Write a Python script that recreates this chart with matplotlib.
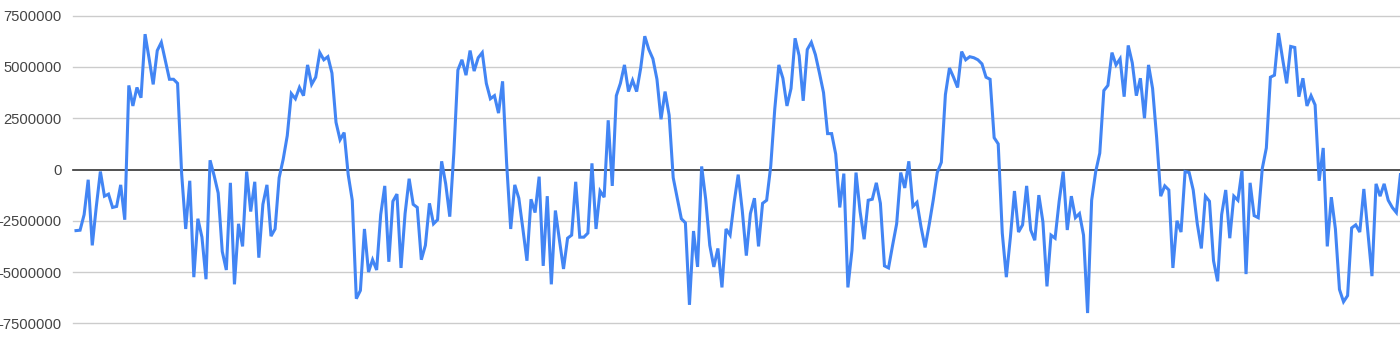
import matplotlib
matplotlib.use("Agg")
import matplotlib.pyplot as plt

values = [
    -2980000, -2960000, -2200000, -500000, -3700000, -1800000, -100000, -1300000, -1200000, -1850000,
    -1800000, -750000, -2450000, 4100000, 3100000, 4000000, 3500000, 6600000, 5400000, 4150000,
    5800000, 6200000, 5300000, 4400000, 4400000, 4200000, -200000, -2900000, -550000, -5250000,
    -2400000, -3300000, -5350000, 450000, -300000, -1150000, -4000000, -4900000, -650000, -5600000,
    -2650000, -3750000, -100000, -2050000, -600000, -4300000, -1700000, -750000, -3250000, -2900000,
    -400000, 500000, 1650000, 3700000, 3450000, 4000000, 3600000, 5100000, 4150000, 4500000,
    5700000, 5350000, 5500000, 4700000, 2300000, 1450000, 1800000, -250000, -1500000, -6300000,
    -5900000, -2900000, -5000000, -4400000, -4900000, -2200000, -800000, -4500000, -1550000, -1200000,
    -4800000, -2150000, -450000, -1700000, -1850000, -4400000, -3700000, -1650000, -2650000, -2450000,
    400000, -700000, -2300000, 800000, 4850000, 5350000, 4600000, 5800000, 4800000, 5450000,
    5700000, 4200000, 3450000, 3600000, 2750000, 4300000, 300000, -2900000, -750000, -1400000,
    -2900000, -4450000, -1450000, -2100000, -350000, -4700000, -1300000, -5600000, -2000000, -3450000,
    -4850000, -3350000, -3200000, -600000, -3300000, -3300000, -3100000, 300000, -2900000, -1050000,
    -1350000, 2400000, -800000, 3600000, 4200000, 5100000, 3800000, 4350000, 3800000, 4950000,
    6500000, 5850000, 5400000, 4400000, 2450000, 3800000, 2650000, -400000, -1400000, -2400000,
    -2600000, -6600000, -3000000, -4750000, 150000, -1450000, -3700000, -4750000, -3850000, -5750000,
    -2900000, -3200000, -1600000, -250000, -2000000, -4200000, -2150000, -1400000, -3750000, -1650000,
    -1500000, 150000, 2950000, 5100000, 4450000, 3100000, 3950000, 6400000, 5550000, 3350000,
    5850000, 6200000, 5600000, 4700000, 3750000, 1750000, 1750000, 750000, -1850000, -200000,
    -5750000, -3950000, -150000, -2050000, -3400000, -1500000, -1450000, -650000, -1650000, -4700000,
    -4800000, -3700000, -2650000, -150000, -900000, 400000, -1800000, -1600000, -2800000, -3800000,
    -2700000, -1500000, -150000, 350000, 3650000, 4950000, 4500000, 4000000, 5750000, 5350000,
    5500000, 5450000, 5350000, 5150000, 4500000, 4400000, 1550000, 1250000, -3100000, -5250000,
    -3300000, -1050000, -3050000, -2700000, -800000, -2950000, -3450000, -1250000, -2550000, -5700000,
    -3200000, -3350000, -1550000, -100000, -2950000, -1300000, -2350000, -2150000, -3200000, -7000000,
    -1500000, -100000, 800000, 3850000, 4100000, 5700000, 5100000, 5400000, 3550000, 6050000,
    5200000, 3600000, 4450000, 2500000, 5100000, 3950000, 1550000, -1300000, -800000, -1000000,
    -4800000, -2500000, -3050000, -100000, -150000, -1000000, -2650000, -3850000, -1300000, -1550000,
    -4450000, -5450000, -2200000, -1000000, -3350000, -1300000, -1500000, -50000, -5100000, -650000,
    -2250000, -2350000, 50000, 1050000, 4500000, 4600000, 6650000, 5400000, 4200000, 6000000,
    5950000, 3550000, 4450000, 3100000, 3600000, 3150000, -550000, 1050000, -3750000, -1350000,
    -2900000, -5850000, -6450000, -6150000, -2850000, -2700000, -3050000, -950000, -3100000, -5200000,
    -700000, -1300000, -700000, -1500000, -1850000, -2100000, -250000,
]

y_ticks = [-7500000, -5000000, -2500000, 0, 2500000, 5000000, 7500000]
y_tick_labels = [str(v) for v in y_ticks]

W, H = 1400, 348
fig = plt.figure(figsize=(W / 100, H / 100), dpi=100)
left_px, top_px, bottom_px = 73, 15.7, 323.3
ax = fig.add_axes([left_px / W, 1 - bottom_px / H, (W - left_px) / W, (bottom_px - top_px) / H])

x = list(range(len(values)))
ax.plot(x, values, color="#4285F4", linewidth=2.2, solid_joinstyle="miter", zorder=3)

ax.set_ylim(-7500000, 7500000)
ax.set_xlim(-0.74, 325.9)
ax.set_yticks(y_ticks)
ax.set_yticklabels(y_tick_labels, fontfamily="Liberation Sans", fontsize=10.6, color="#444444")
ax.tick_params(axis="y", length=0, pad=8)
ax.set_xticks([])
for s in ax.spines.values():
    s.set_visible(False)
for t in y_ticks:
    if t == 0:
        ax.axhline(t, color="#333333", linewidth=1.2, zorder=2, clip_on=False)
    else:
        ax.axhline(t, color="#cccccc", linewidth=1.0, zorder=1, clip_on=False)

fig.savefig("out.png", dpi=100)
